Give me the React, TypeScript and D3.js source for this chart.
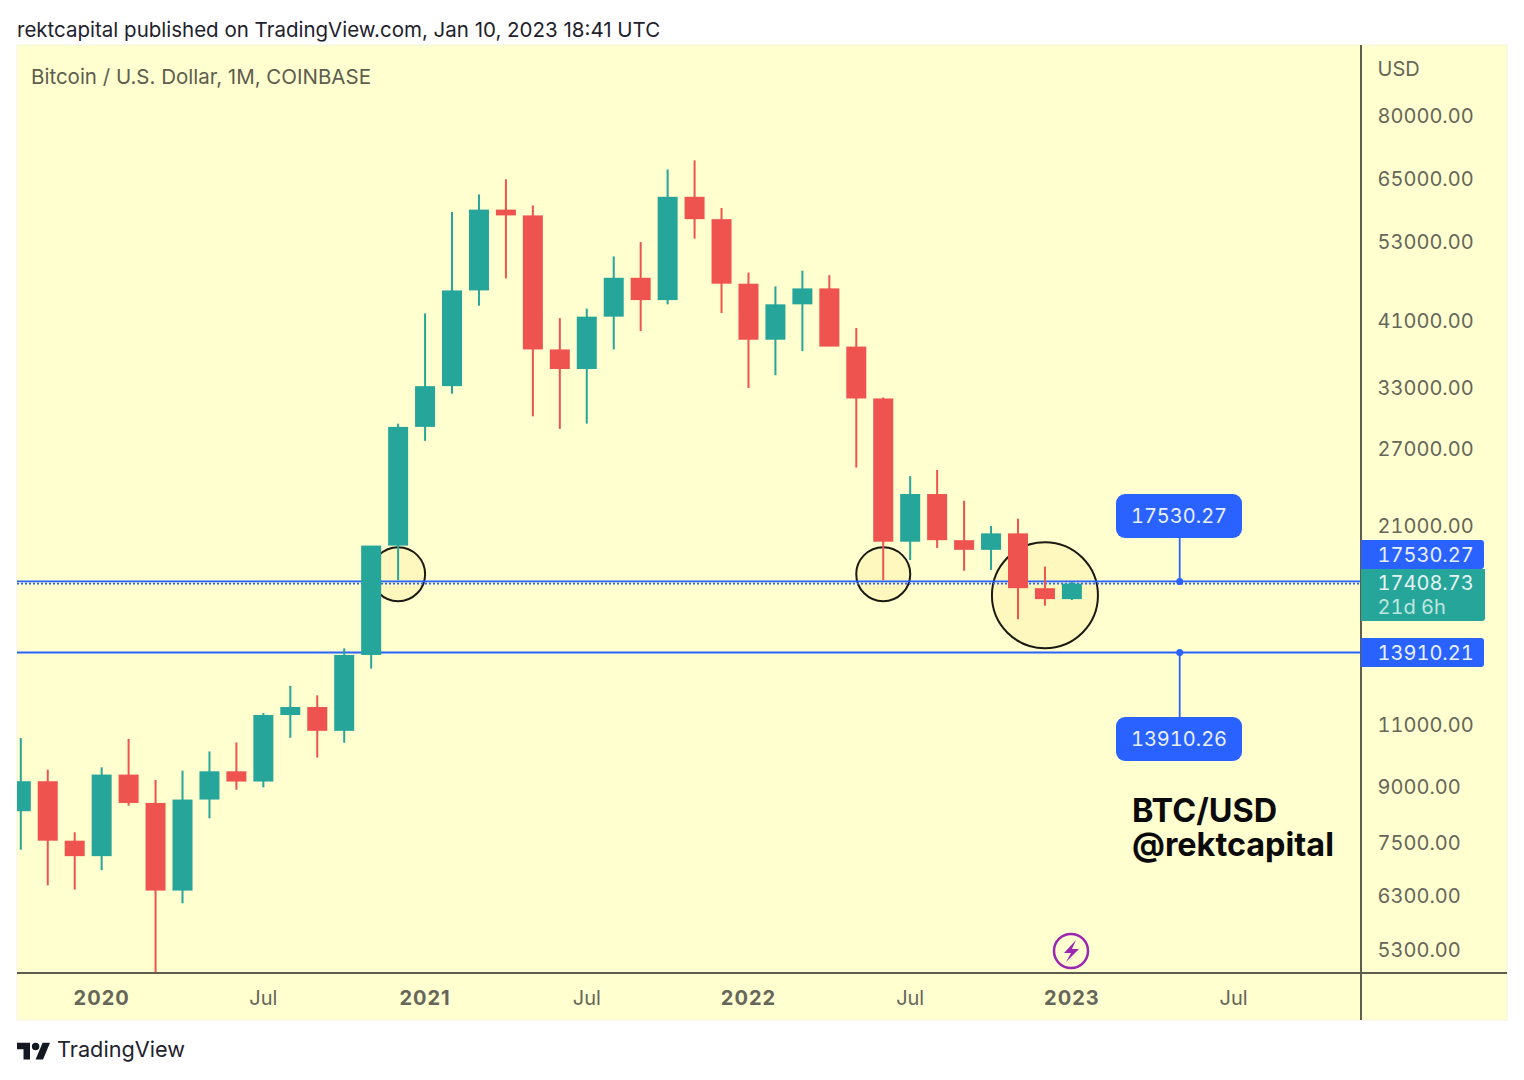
import * as d3 from 'd3';

const WIDTH = 1524;
const HEIGHT = 1080;
const PANE = { left: 17, right: 1361, top: 45, bottom: 973, edge: 1507, end: 1020 };
const FONT = 'Inter, "Noto Sans", sans-serif';
const UP = '#26a69a';
const DOWN = '#ef5350';
const BLUE = '#2962ff';
const AXIS_TEXT = '#66665a';
const NUMS = { fontVariantNumeric: 'tabular-nums' };

// monthly candles, first one is Oct 2019
const opens = [8300, 9150, 7540, 7170, 9350, 8525, 6410, 8620, 9450, 9140, 11350, 11650, 10780, 13800, 19700, 28990, 33100, 45200, 58800, 57700, 37300, 35000, 41500, 47100, 43800, 61300, 57000, 46200, 38500, 43200, 45500, 37650, 31800, 19950, 23300, 20050, 19430, 20500, 17150, 16550];
const highs = [10530, 9500, 7750, 9575, 10500, 9190, 9470, 10080, 10380, 11420, 12480, 12100, 14100, 19480, 29300, 41950, 58350, 61780, 64900, 59600, 41300, 42600, 50500, 52900, 67000, 69000, 59100, 47900, 45800, 48200, 47500, 40000, 31900, 24700, 25200, 22800, 21000, 21500, 18400, 17500];
const lows = [7322, 6520, 6430, 6850, 8450, 3850, 6150, 8110, 8900, 8970, 10540, 9880, 10370, 13200, 17600, 27700, 32300, 43000, 47000, 30000, 28800, 29300, 37300, 39600, 43200, 53500, 42000, 32900, 34300, 37100, 37700, 25400, 17600, 18800, 19550, 18150, 18200, 15500, 16200, 16500];
const closes = [9150, 7540, 7170, 9350, 8525, 6410, 8620, 9450, 9140, 11350, 11650, 10780, 13800, 19700, 28990, 33100, 45200, 58800, 57700, 37300, 35000, 41500, 47100, 43800, 61300, 57000, 46200, 38500, 43200, 45500, 37650, 31800, 19950, 23300, 20050, 19430, 20500, 17150, 16550, 17408.73];

const priceTicks = [80000, 65000, 53000, 41000, 33000, 27000, 21000, 11000, 9000, 7500, 6300, 5300];
const timeTicks = [
  { index: 3, label: '2020', bold: true },
  { index: 9, label: 'Jul', bold: false },
  { index: 15, label: '2021', bold: true },
  { index: 21, label: 'Jul', bold: false },
  { index: 27, label: '2022', bold: true },
  { index: 33, label: 'Jul', bold: false },
  { index: 39, label: '2023', bold: true },
  { index: 45, label: 'Jul', bold: false },
];

const upperLevel = 17530.27;
const lowerLevel = 13910.21;
const lastPrice = 17408.73;
const calloutIndex = 43;

const rings = [
  { index: 14, price: 17950, radius: 27 },
  { index: 32, price: 17950, radius: 27 },
  { index: 38, price: 16760, radius: 53 },
];

const xScale = d3.scaleLinear().domain([0, 45]).range([20.8, 1233.6]);
const yScale = d3.scaleLog().domain([5300, 80000]).range([949, 115]);

const Tag = ({ y, h, fill, text }: { y: number; h: number; fill: string; text: string }) => (
  <g>
    <path d={`M${PANE.right} ${y}h120a3 3 0 0 1 3 3v${h - 6}a3 3 0 0 1 -3 3h-120z`} fill={fill} />
    <text x={1377.5} y={y + h / 2 + 7} fill="#e8f0ff" fontSize={20} style={NUMS}>{text}</text>
  </g>
);

const Callout = ({ y, text }: { y: number; text: string }) => (
  <g>
    <rect x={1116} y={y} width={126} height={44} rx={9} fill={BLUE} />
    <text x={1179} y={y + 29} fill="#e8f0ff" fontSize={20} textAnchor="middle" style={NUMS}>{text}</text>
  </g>
);

export default function App() {
  const upperY = yScale(upperLevel);
  const lowerY = yScale(lowerLevel);
  const lastY = yScale(lastPrice);
  const calloutX = xScale(calloutIndex);

  const candles = opens.map((open, i) => {
    const x = xScale(i);
    const close = closes[i];
    const top = yScale(Math.max(open, close));
    const bottom = yScale(Math.min(open, close));
    const color = close >= open ? UP : DOWN;
    return (
      <g key={i}>
        <line x1={x} x2={x} y1={yScale(highs[i])} y2={yScale(lows[i])} stroke={color} strokeWidth={2} />
        <rect x={x - 10} y={top} width={20} height={bottom - top} fill={color} />
      </g>
    );
  });

  return (
    <svg
      width={WIDTH}
      height={HEIGHT}
      fontFamily={FONT}
      style={{ position: 'absolute', left: 0, top: 0, background: '#fff' }}
    >
      <defs>
        <clipPath id="pane">
          <rect x={PANE.left} y={PANE.top} width={PANE.right - PANE.left} height={PANE.bottom - PANE.top} />
        </clipPath>
      </defs>

      <text x={17} y={37} fontSize={20.5} fill="#1e222d">rektcapital published on TradingView.com, Jan 10, 2023 18:41 UTC</text>

      <rect x={PANE.left} y={PANE.top} width={PANE.edge - PANE.left} height={PANE.end - PANE.top} fill="#ffffcf" stroke="#f4f5d8" />

      <text x={31} y={84} fontSize={20.5} fill="#5d5d50">Bitcoin / U.S. Dollar, 1M, COINBASE</text>

      <g clipPath="url(#pane)">
        {rings.map((r, i) => (
          <circle key={i} cx={xScale(r.index)} cy={yScale(r.price)} r={r.radius} fill="#fdf3b0" fillOpacity={0.55} stroke="#1a1a12" strokeWidth={2} />
        ))}
        <line x1={PANE.left} x2={PANE.right} y1={upperY} y2={upperY} stroke={BLUE} strokeWidth={1.8} />
        <line x1={PANE.left} x2={PANE.right} y1={lastY} y2={lastY} stroke={BLUE} strokeWidth={1.8} strokeDasharray="2 2" />
        <line x1={PANE.left} x2={PANE.right} y1={lowerY} y2={lowerY} stroke={BLUE} strokeWidth={1.8} />
        {candles}
      </g>

      <line x1={calloutX} x2={calloutX} y1={538} y2={upperY} stroke={BLUE} strokeWidth={1.8} />
      <line x1={calloutX} x2={calloutX} y1={lowerY} y2={717} stroke={BLUE} strokeWidth={1.8} />
      <circle cx={calloutX} cy={upperY} r={3.5} fill={BLUE} />
      <circle cx={calloutX} cy={lowerY} r={3.5} fill={BLUE} />
      <Callout y={494} text={upperLevel.toFixed(2)} />
      <Callout y={717} text="13910.26" />

      <text x={1132} y={822} fontSize={32.4} fontWeight={700} fill="#0a0a0a">BTC/USD</text>
      <text x={1132} y={856} fontSize={32.4} fontWeight={700} fill="#0a0a0a">@rektcapital</text>

      <circle cx={1071} cy={951} r={17} fill="none" stroke="#9c27b0" strokeWidth={2.5} />
      <path d="M1076 940 L1064 953 H1071 L1066 962 L1079 949 H1072 Z" fill="#9c27b0" />

      <line x1={PANE.right} x2={PANE.right} y1={PANE.top} y2={PANE.end} stroke="#5d5d50" strokeWidth={2} />
      <line x1={PANE.left} x2={PANE.edge} y1={PANE.bottom} y2={PANE.bottom} stroke="#5d5d50" strokeWidth={2} />

      <text x={1377.5} y={76} fontSize={20} fill={AXIS_TEXT}>USD</text>
      {priceTicks.map(p => (
        <text key={p} x={1377.5} y={yScale(p) + 7.5} fontSize={20} fill={AXIS_TEXT} style={NUMS}>{p.toFixed(2)}</text>
      ))}
      {timeTicks.map(t => (
        <text key={t.index} x={xScale(t.index)} y={1005} fontSize={20} letterSpacing={t.bold ? 1 : 0} fontWeight={t.bold ? 700 : 400} textAnchor="middle" fill={AXIS_TEXT}>{t.label}</text>
      ))}

      <Tag y={540} h={29} fill={BLUE} text={upperLevel.toFixed(2)} />
      <path d={`M${PANE.right} 569h124v49a3 3 0 0 1 -3 3h-121z`} fill="#26a69a" />
      <text x={1377.5} y={590} fontSize={20} fill="#e6f5f2" style={NUMS}>{lastPrice.toFixed(2)}</text>
      <text x={1377.5} y={614} fontSize={20} fill="#bfe6de" style={NUMS}>21d 6h</text>
      <Tag y={638} h={29} fill={BLUE} text={lowerLevel.toFixed(2)} />

      <g transform="translate(17,1039) scale(0.93)" fill="#131722">
        <path d="M14 22H7V11H0V4h14v18zM28 22h-8l7.5-18h8L28 22z" />
        <circle cx={20} cy={8} r={4} />
      </g>
      <text x={57} y={1057} fontSize={21.7} fill="#1e222d">TradingView</text>
    </svg>
  );
}
